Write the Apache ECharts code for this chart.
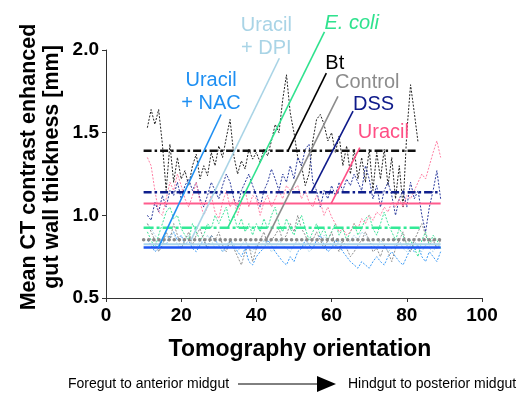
<!DOCTYPE html>
<html>
<head>
<meta charset="utf-8">
<script src="https://cdn.jsdelivr.net/npm/echarts@6/dist/echarts.min.js"></script>
<style>
  html, body { margin: 0; padding: 0; background: #fff; }
  #chart { width: 529px; height: 396px; }
</style>
</head>
<body>
<div id="chart"></div>
<script>
// tomography slices
var slices = [11,12,13,14,15,16,17,18,19,20,21,22,23,24,25,26,27,28,29,30,
  31,32,33,34,35,36,37,38,39,40,41,42,43,44,45,46,47,48,49,50,
  51,52,53,54,55,56,57,58,59,60,61,62,63,64,65,66,67,68,69,70,
  71,72,73,74,75,76,77,78,79,80,81,82,83,84,85,86,87,88,89];

var btVals = [1.53,1.64,1.55,1.64,1.43,1.15,1.43,1.2,1.35,1.22,1.27,1.18,1.3,1.37,1.22,1.3,1.24,1.38,1.3,1.42,
  1.35,1.47,1.58,1.36,1.25,1.33,1.28,1.4,1.34,1.38,1.32,1.4,1.36,1.45,1.55,1.5,1.7,1.85,1.62,1.5,
  1.35,1.3,1.18,1.25,1.45,1.58,1.61,1.55,1.45,1.5,1.38,1.48,1.3,1.42,1.25,1.4,1.22,1.35,1.2,1.4,
  1.15,1.38,1.22,1.4,1.18,1.35,1.1,1.3,1.05,1.5,1.79,1.62,1.44];
var dssVals = [1.0,0.97,1.08,1.02,1.12,1.05,1.15,1.12,1.2,1.1,1.18,1.22,1.15,1.2,1.1,1.05,1.12,1.2,1.15,1.1,
  1.18,1.25,1.2,1.1,1.05,1.15,1.2,1.25,1.18,1.12,1.05,1.15,1.2,1.28,1.22,1.15,1.25,1.2,1.3,1.22,
  1.35,1.3,1.4,1.43,1.2,1.15,1.05,1.15,1.1,1.18,1.12,1.2,1.15,1.22,1.18,1.25,1.2,1.15,1.3,1.22,
  1.1,1.18,1.05,1.15,1.2,1.12,1.0,1.1,1.15,1.05,1.2,1.1,1.15,1.0,0.9,1.05,1.15,1.27,1.1];
var uracilVals = [1.35,1.3,1.15,1.02,1.0,1.1,1.2,1.15,1.25,1.18,1.1,1.05,1.12,1.2,1.08,1.0,1.05,1.12,1.02,0.98,
  1.08,1.15,1.05,1.1,1.0,1.08,1.15,1.05,1.12,1.1,1.0,1.08,1.12,1.05,1.1,1.15,1.1,1.18,1.15,1.16,
  1.18,1.1,1.15,1.08,1.05,1.12,1.08,1.0,1.05,0.99,0.95,0.9,0.92,0.88,0.9,0.95,0.92,0.98,0.95,1.0,
  0.97,1.02,1.0,1.05,1.02,1.08,1.05,1.1,1.05,1.12,1.1,1.15,1.2,1.25,1.22,1.3,1.38,1.45,1.35];
var ecoliVals = [0.9,0.85,0.8,0.88,0.95,1.02,1.05,0.98,1.0,0.92,0.88,0.85,0.95,0.9,0.85,0.88,0.95,0.92,1.0,0.95,
  1.0,1.05,0.95,1.0,0.92,0.98,0.9,0.95,0.88,0.95,0.9,0.98,0.92,1.0,1.05,0.95,0.9,0.98,0.92,0.88,
  0.95,1.0,0.92,0.85,0.9,0.95,0.88,0.92,0.85,0.9,0.95,0.88,0.92,0.85,0.9,0.95,0.88,0.92,0.98,1.0,
  0.92,0.88,0.95,1.02,0.95,0.9,0.85,0.92,0.88,0.82,0.85,0.8,0.75,0.85,0.9,0.82,0.88,0.85,0.8];
var controlVals = [0.95,0.9,0.85,0.78,0.82,0.9,0.85,0.95,0.88,0.8,0.85,0.9,0.82,0.88,0.92,0.85,0.8,0.88,0.85,0.9,
  0.82,0.78,0.85,0.8,0.75,0.7,0.78,0.82,0.72,0.8,0.85,0.9,0.82,0.85,0.88,0.92,0.85,0.88,0.95,0.9,
  1.0,0.92,0.88,0.82,0.85,0.9,0.85,0.8,0.85,0.9,0.82,0.78,0.85,0.8,0.75,0.78,0.82,0.85,0.9,0.85,
  0.78,0.8,0.75,0.82,0.78,0.72,0.8,0.85,0.9,0.82,0.78,0.85,0.9,0.95,0.88,0.82,0.85,0.8,0.85];
var nacVals = [0.85,0.82,0.78,0.8,0.85,0.82,0.88,0.9,0.85,0.88,0.82,0.85,0.8,0.78,0.82,0.85,0.8,0.88,0.85,0.82,
  0.78,0.8,0.85,0.82,0.78,0.75,0.8,0.72,0.7,0.75,0.78,0.8,0.85,0.82,0.78,0.75,0.72,0.7,0.75,0.72,
  0.78,0.8,0.85,0.82,0.8,0.85,0.88,0.82,0.78,0.8,0.85,0.82,0.78,0.75,0.72,0.7,0.68,0.72,0.7,0.68,
  0.72,0.75,0.72,0.7,0.75,0.78,0.75,0.72,0.7,0.75,0.8,0.78,0.82,0.75,0.72,0.78,0.75,0.72,0.78];
var dpiVals = [0.95,0.92,0.88,0.85,0.82,0.88,0.85,0.9,0.82,0.8,0.85,0.88,0.82,0.8,0.85,0.82,0.88,0.85,0.8,0.82,
  0.78,0.82,0.85,0.8,0.78,0.82,0.85,0.8,0.78,0.82,0.8,0.85,0.82,0.78,0.8,0.85,0.82,0.8,0.78,0.82,
  0.85,0.8,0.82,0.78,0.8,0.85,0.82,0.88,0.85,0.82,0.8,0.85,0.82,0.8,0.85,0.88,0.85,0.9,0.88,0.85,
  0.82,0.8,0.85,0.82,0.78,0.8,0.82,0.85,0.8,0.78,0.82,0.85,0.8,0.78,0.82,0.8,0.78,0.82,0.8];

// group means
var groups = ['Uracil + NAC', 'Uracil + DPI', 'E. coli', 'Bt', 'Control', 'DSS', 'Uracil'];
var meanVals = [0.805, 0.825, 0.925, 1.39, 0.852, 1.14, 1.072];
var meanStart = [10, 10, 10, 10, 10, 10, 10];
var meanEnd = [89, 89, 84, 83, 89, 89, 89];

// leader lines: foot on mean line, head at the label
var leaderFoot = [[13.9, 0.805], [22.6, 0.85], [32.4, 0.925], [48.4, 1.39], [42.6, 0.852], [54.6, 1.14], [59.9, 1.072]];
var leaderHead = [[30.6, 1.61], [46.1, 1.95], [58.1, 2.11], [58.6, 1.86], [61.7, 1.72], [65.7, 1.63], [67.5, 1.41]];
var labelText = ['Uracil\n+ NAC', 'Uracil\n+ DPI', 'E. coli', 'Bt', 'Control', 'DSS', 'Uracil'];

var xTicks = [0, 20, 40, 60, 80, 100];
var yTicks = [0.5, 1.0, 1.5, 2.0];

var font = "'Liberation Sans', Arial, sans-serif";
var noisyColors = ['#3d9cf7', '#aed6ea', '#3fe39a', '#222222', '#8f8f8f', '#2a3a9c', '#ff7fa4'];
var meanColors = ['#1d55f2', '#a9d4ea', '#33ea97', '#111111', '#8a8a8a', '#0f1f8c', '#ff5c8d'];
var leaderColors = ['#1e8ff2', '#a9d4e6', '#2fe28e', '#000000', '#8c8c8c', '#0e1a8a', '#ff4f85'];
var meanTypes = [
  'solid', 'solid', [10, 3, 3, 3], [8, 3, 2.5, 3], [0.1, 5], [8, 3, 2.5, 3], 'solid'
];
var meanWidths = [2.5, 2, 2.5, 2.5, 3.5, 2.5, 2];
var labelAlign = ['center', 'center', 'left', 'left', 'left', 'left', 'left'];
var labelVAlign = ['bottom', 'bottom', 'middle', 'middle', 'middle', 'middle', 'middle'];
var labelOffset = [[-10, 1], [-13, 2], [0, -8], [-1, -10], [-3, -14], [0, -7], [-2, -15]];

var noisySets = [nacVals, dpiVals, ecoliVals, btVals, controlVals, dssVals, uracilVals];

var series = [];
noisySets.forEach(function (vals, k) {
  series.push({
    type: 'line',
    silent: true,
    symbol: 'none',
    data: vals.map(function (v, i) { return [slices[i], v]; }),
    lineStyle: { color: noisyColors[k], width: 1, type: [2, 1.5] },
    z: 2
  });
});
groups.forEach(function (g, k) {
  series.push({
    type: 'line',
    name: g,
    silent: true,
    symbol: 'none',
    data: [[meanStart[k], meanVals[k]], [meanEnd[k], meanVals[k]]],
    lineStyle: { color: meanColors[k], width: meanWidths[k], type: meanTypes[k], cap: k === 4 ? 'round' : 'butt' },
    z: 3
  });
  series.push({
    type: 'line',
    silent: true,
    clip: false,
    symbol: 'none',
    data: [leaderFoot[k], leaderHead[k]],
    lineStyle: { color: leaderColors[k], width: 1.6 },
    z: 4
  });
  // label anchored at the head of the leader
  series.push({
    type: 'scatter',
    silent: true,
    clip: false,
    symbolSize: 0,
    itemStyle: { opacity: 1, color: leaderColors[k] },
    data: [leaderHead[k]],
    label: {
      show: true,
      formatter: labelText[k],
      position: 'inside',
      offset: labelOffset[k],
      align: labelAlign[k],
      verticalAlign: labelVAlign[k],
      color: leaderColors[k],
      opacity: 1,
      fontFamily: font,
      fontSize: 20,
      lineHeight: 23,
      fontStyle: k === 2 ? 'italic' : 'normal'
    },
    z: 5
  });
});

var chart = echarts.init(document.getElementById('chart'), null, { renderer: 'canvas' });
chart.setOption({
  animation: false,
  backgroundColor: '#fff',
  grid: { left: 106, right: 47, top: 50, bottom: 98, containLabel: false },
  xAxis: {
    type: 'value',
    min: xTicks[0],
    max: xTicks[xTicks.length - 1],
    interval: 20,
    splitLine: { show: false },
    axisLine: { lineStyle: { color: '#333', width: 1 } },
    axisTick: { show: true, length: 4, lineStyle: { color: '#333' } },
    axisLabel: { color: '#000', fontFamily: font, fontSize: 19, fontWeight: 'bold', margin: 8 }
  },
  yAxis: {
    type: 'value',
    min: yTicks[0],
    max: yTicks[yTicks.length - 1],
    interval: 0.5,
    splitLine: { show: false },
    axisLine: { show: true, lineStyle: { color: '#333', width: 1 } },
    axisTick: { show: true, length: 4, lineStyle: { color: '#333' } },
    axisLabel: {
      color: '#000', fontFamily: font, fontSize: 19, fontWeight: 'bold', margin: 7,
      formatter: function (v) { return v.toFixed(1); }
    }
  },
  graphic: [
    {
      type: 'text',
      x: 41, y: 167,
      rotation: Math.PI / 2,
      style: {
        text: 'Mean CT contrast enhanced\ngut wall thickness [mm]',
        fontFamily: font, fontSize: 21.5, fontWeight: 'bold', lineHeight: 23,
        fill: '#000', align: 'center', verticalAlign: 'middle'
      }
    },
    {
      type: 'text',
      x: 300, y: 350,
      style: {
        text: 'Tomography orientation',
        fontFamily: font, fontSize: 23, fontWeight: 'bold',
        fill: '#000', align: 'center', verticalAlign: 'middle'
      }
    },
    {
      type: 'text',
      x: 68, y: 384,
      style: { text: 'Foregut to anterior midgut', fontFamily: font, fontSize: 14, fill: '#000', align: 'left', verticalAlign: 'middle' }
    },
    {
      type: 'line',
      shape: { x1: 238, y1: 384, x2: 320, y2: 384 },
      style: { stroke: '#000', lineWidth: 1 }
    },
    {
      type: 'polygon',
      shape: { points: [[317, 376], [336, 384], [317, 392]] },
      style: { fill: '#000' }
    },
    {
      type: 'text',
      x: 348, y: 384,
      style: { text: 'Hindgut to posterior midgut', fontFamily: font, fontSize: 14, fill: '#000', align: 'left', verticalAlign: 'middle' }
    }
  ],
  series: series
});
</script>
</body>
</html>
